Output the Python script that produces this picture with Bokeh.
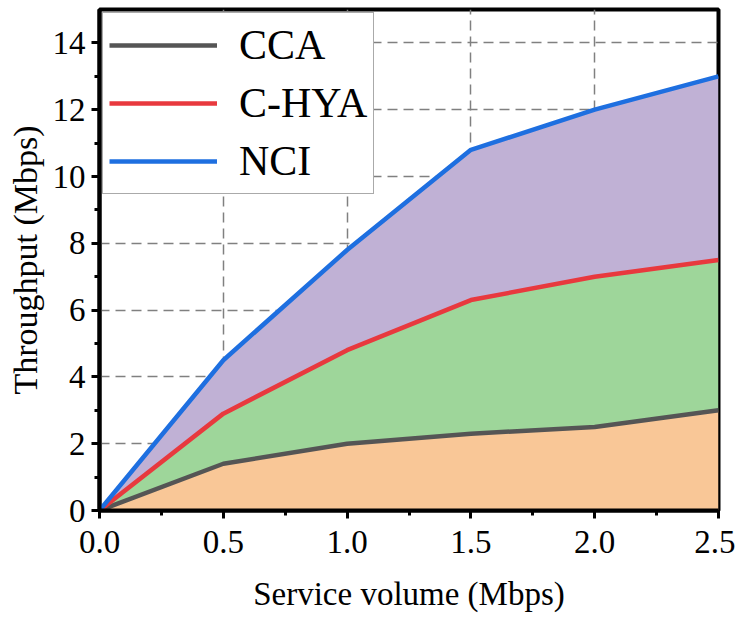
from bokeh.plotting import figure
from bokeh.embed import file_html
from bokeh.resources import INLINE
from bokeh.models import Range1d, FixedTicker, Legend, LegendItem

x = [0.0, 0.5, 1.0, 1.5, 2.0, 2.5]
cca = [0.0, 1.4, 2.0, 2.3, 2.5, 3.0]
chya = [0.0, 2.9, 4.8, 6.3, 7.0, 7.5]
nci = [0.0, 4.5, 7.8, 10.8, 12.0, 13.0]
base = [0.0] * len(x)
x_ticks = [0.0, 0.5, 1.0, 1.5, 2.0, 2.5]
y_ticks = [0, 2, 4, 6, 8, 10, 12, 14]

p = figure(width=735, height=616, output_backend="svg", toolbar_location=None,
           x_range=Range1d(0, 2.5), y_range=Range1d(0, 15),
           min_border_left=99, min_border_right=17, min_border_top=9, min_border_bottom=106)
p.background_fill_color = "white"
p.border_fill_color = "white"
p.outline_line_color = "black"
p.outline_line_width = 4

p.varea(x=x, y1=base, y2=cca, fill_color="#f9c797")
p.varea(x=x, y1=cca, y2=chya, fill_color="#9ed69a")
p.varea(x=x, y1=chya, y2=nci, fill_color="#c0b1d5")

r1 = p.line(x, cca, line_color="#555555", line_width=4.5)
r2 = p.line(x, chya, line_color="#e8393e", line_width=4.5)
r3 = p.line(x, nci, line_color="#1e6fe0", line_width=4.5)

for ax, ticks in ((p.xaxis[0], x_ticks), (p.yaxis[0], y_ticks)):
    ax.ticker = FixedTicker(ticks=ticks, minor_ticks=[t + (ticks[1]-ticks[0])/2 for t in ticks[:-1]])
    ax.axis_line_color = "black"
    ax.axis_line_width = 4
    ax.major_tick_line_color = "black"
    ax.major_tick_line_width = 3
    ax.major_tick_out = 8
    ax.major_tick_in = 0
    ax.minor_tick_line_color = "black"
    ax.minor_tick_line_width = 3
    ax.minor_tick_out = 5
    ax.minor_tick_in = 0
    ax.major_label_text_font = "Liberation Serif"
    ax.major_label_text_font_size = "33px"
    ax.major_label_text_color = "black"
    ax.axis_label_text_font = "Liberation Serif"
    ax.axis_label_text_font_style = "normal"
    ax.axis_label_text_color = "black"

p.xaxis.axis_label_text_font_size = "33px"
p.yaxis.axis_label_text_font_size = "34px"
p.xaxis[0].major_label_overrides = {0.0: "0.0", 0.5: "0.5", 1.0: "1.0", 1.5: "1.5", 2.0: "2.0", 2.5: "2.5"}
p.xaxis.axis_label = "Service volume (Mbps)"
p.yaxis.axis_label = "Throughput (Mbps)"
p.xaxis.axis_label_standoff = 20
p.yaxis.axis_label_standoff = 6
p.xaxis.major_label_standoff = 12
p.yaxis.major_label_standoff = 6

p.xgrid.ticker = FixedTicker(ticks=x_ticks)
p.ygrid.ticker = FixedTicker(ticks=y_ticks)
for g in (p.xgrid[0], p.ygrid[0]):
    g.grid_line_color = "#808080"
    g.grid_line_width = 1.5
    g.grid_line_dash = "10 6"

legend = Legend(items=[LegendItem(label="CCA", renderers=[r1]),
                       LegendItem(label="C-HYA", renderers=[r2]),
                       LegendItem(label="NCI", renderers=[r3])],
                location="top_left")
legend.label_text_font = "Liberation Serif"
legend.label_text_font_size = "42px"
legend.label_text_color = "black"
legend.glyph_width = 108
legend.glyph_height = 52
legend.label_height = 52
legend.spacing = 6
legend.padding = 6
legend.margin = 3
legend.label_standoff = 22
legend.border_line_color = "#555555"
legend.border_line_width = 1
legend.background_fill_color = "white"
legend.background_fill_alpha = 1
p.add_layout(legend)

open("out.html", "w").write(file_html(p, INLINE))
